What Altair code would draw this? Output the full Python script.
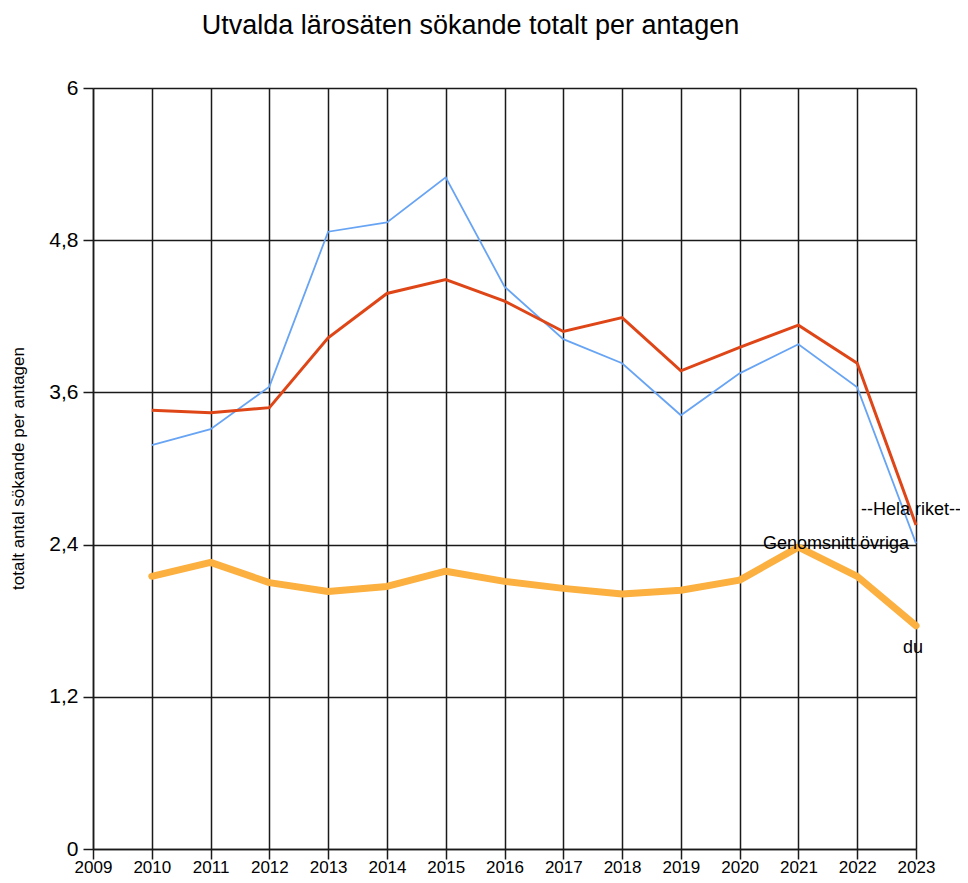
import altair as alt
import pandas as pd

years = list(range(2010, 2024))
hela_riket = [3.46, 3.44, 3.48, 4.03, 4.38, 4.49, 4.32, 4.08, 4.19, 3.77, 3.955, 4.13, 3.83, 2.555]
genomsnitt_ovriga = [3.185, 3.31, 3.645, 4.867, 4.94, 5.296, 4.434, 4.02, 3.83, 3.42, 3.75, 3.98, 3.64, 2.41]
du = [2.15, 2.26, 2.10, 2.03, 2.07, 2.19, 2.11, 2.055, 2.01, 2.04, 2.12, 2.38, 2.15, 1.76]

x_ticks = list(range(2009, 2024))
y_ticks = [0, 1.2, 2.4, 3.6, 4.8, 6]

FONT = "Liberation Sans, Arial, sans-serif"

df = pd.DataFrame({
    "year": years * 3,
    "value": hela_riket + genomsnitt_ovriga + du,
    "series": ["Hela riket"] * len(years) + ["Genomsnitt övriga"] * len(years) + ["du"] * len(years),
})

ann = pd.DataFrame({
    "year": [years[-1]] * 3,
    "value": [hela_riket[-1], genomsnitt_ovriga[-1], du[-1]],
    "label": ["--Hela riket--", "Genomsnitt övriga", "du"],
})

xs = alt.Scale(domain=[2009, 2023], nice=False, zero=False)
ys = alt.Scale(domain=[0, 6], nice=False, zero=True)

xaxis = alt.Axis(values=x_ticks, format="d", title=None, grid=True, gridColor="#1a1a1a",
                 gridWidth=1.5, gridOpacity=1, domainColor="#1a1a1a", domainWidth=1.5,
                 tickColor="#1a1a1a", tickWidth=1.5, tickSize=10, labelPadding=0,
                 labelFont=FONT, labelFontSize=17, labelColor="black", labelFlush=False)
yaxis = alt.Axis(values=y_ticks, title="totalt antal sökande per antagen", grid=True,
                 gridColor="#1a1a1a", gridWidth=1.5, gridOpacity=1, domainColor="#1a1a1a",
                 domainWidth=1.5, tickColor="#1a1a1a", tickWidth=1.5, tickSize=10,
                 labelPadding=5, labelFont=FONT, labelFontSize=21, labelColor="black",
                 labelExpr="replace(toString(datum.value), '.', ',')",
                 titleFont=FONT, titleFontSize=17, titleFontWeight="normal", titleColor="black",
                 titleAngle=270, titleX=-75, titleY=380, titleBaseline="middle", titleAlign="center")

base = alt.Chart(df).encode(
    x=alt.X("year:Q", scale=xs, axis=xaxis),
    y=alt.Y("value:Q", scale=ys, axis=yaxis),
)

blue = base.transform_filter(alt.datum.series == "Genomsnitt övriga").mark_line(
    color="#68A4F4", strokeWidth=1.8)
red = base.transform_filter(alt.datum.series == "Hela riket").mark_line(
    color="#DF4617", strokeWidth=3)
orange = base.transform_filter(alt.datum.series == "du").mark_line(
    color="#FBB040", strokeWidth=7, strokeCap="round", strokeJoin="round")

tbase = alt.Chart(ann).encode(
    x=alt.X("year:Q", scale=xs),
    y=alt.Y("value:Q", scale=ys),
    text="label:N",
)
t1 = tbase.transform_filter(alt.datum.label == "--Hela riket--").mark_text(
    font=FONT, fontSize=18, align="center", baseline="middle", dx=-5, dy=-15, color="black")
t2 = tbase.transform_filter(alt.datum.label == "Genomsnitt övriga").mark_text(
    font=FONT, fontSize=18, align="right", baseline="middle", dx=-7, dy=1, color="black")
t3 = tbase.transform_filter(alt.datum.label == "du").mark_text(
    font=FONT, fontSize=18, align="center", baseline="middle", dx=-3, dy=22, color="black")

chart = alt.layer(blue, red, orange, t1, t2, t3).properties(
    width=823,
    height=761,
    autosize="none",
    padding={"left": 85, "top": 80, "right": 44, "bottom": 26},
    title=alt.TitleParams("Utvalda lärosäten sökande totalt per antagen", font=FONT,
                          fontSize=27, fontWeight="normal", color="black", anchor="middle",
                          dx=-34, offset=37),
).configure_view(stroke=None)

chart.save("out.html", embed_options={"renderer": "svg", "actions": False})
